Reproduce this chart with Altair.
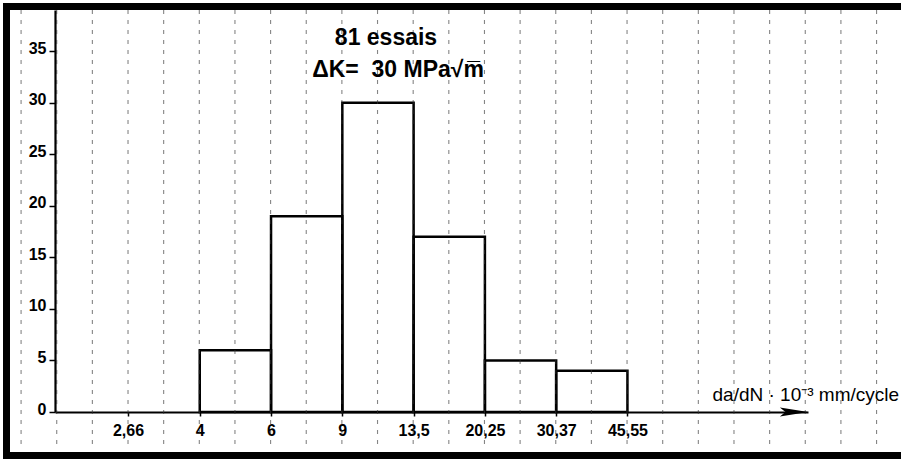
import altair as alt
import pandas as pd

# ---- data ----
bin_lo = [4, 6, 9, 13.5, 20.25, 30.37]
bin_hi = [6, 9, 13.5, 20.25, 30.37, 45.55]
counts = [6, 19, 30, 17, 5, 4]
x_ticks = [2.66, 4, 6, 9, 13.5, 20.25, 30.37, 45.55]
y_ticks = [0, 5, 10, 15, 20, 25, 30, 35]
x_domain = [1.756, 127.2]
y_domain = [0, 39]
# paper grid lines: half steps of the 1.5 ratio class scale
grid_vals = [2.66 * 1.5 ** (k / 2) for k in range(-3, 22)]
title_lines = ["81 essais", "ΔK=\u00a0\u00a030\u00a0MPa√m̅"]
x_title = "da/dN · 10⁻³ mm/cycle"

W, H = 753, 402
FONT = "Liberation Sans"
NARROW = "Liberation Sans Narrow, Arial Narrow, Liberation Sans"

xs = alt.Scale(type="log", domain=x_domain, nice=False, zero=False)
ys = alt.Scale(domain=y_domain, nice=False, zero=False)

x_axis = alt.Axis(
    values=x_ticks,
    labelExpr="replace(toString(datum.value), '.', ',')",
    title=x_title,
    titleX=657,
    titleY=-12,
    titleAlign="left",
    titleBaseline="alphabetic",
    titleFontSize=19,
    titleFontWeight="normal",
    titleFont=FONT,
    titleColor="black",
    labelFontSize=16,
    labelFont=NARROW,
    labelFontWeight="bold",
    labelColor="black",
    labelPadding=6,
    labelFlush=False,
    labelOverlap=False,
    tickSize=4,
    tickWidth=1.5,
    tickColor="black",
    domainColor="black",
    domainWidth=2.2,
    grid=False,
)
y_axis = alt.Axis(
    values=y_ticks,
    title=None,
    labelFontSize=16,
    labelFont=NARROW,
    labelFontWeight="bold",
    labelColor="black",
    labelPadding=3,
    labelBaseline="middle",
    labelOffset=-3,
    tickSize=6,
    tickWidth=1.5,
    tickColor="black",
    domainColor="black",
    domainWidth=2.2,
    grid=False,
)

bars_df = pd.DataFrame({"lo": bin_lo, "hi": bin_hi, "n": counts, "base": [0] * len(counts)})
grid_df = pd.DataFrame({"lo": grid_vals})
arrow_df = pd.DataFrame({"lo": [x_domain[1]], "n": [0]})
one = pd.DataFrame({"a": [0]})

bars = alt.Chart(bars_df).mark_rect(
    fill="white", fillOpacity=0, stroke="black", strokeWidth=2.5
).encode(
    x=alt.X("lo:Q", scale=xs, axis=x_axis),
    x2="hi:Q",
    y=alt.Y("n:Q", scale=ys, axis=y_axis),
    y2="base:Q",
)

grid = alt.Chart(grid_df).mark_rule(
    stroke="#333", strokeDash=[4, 6], strokeWidth=1.1, opacity=0.6
).encode(
    x=alt.X("lo:Q", scale=xs, axis=x_axis),
    y=alt.value(0),
    y2=alt.value(437),
)

arrow = alt.Chart(arrow_df).mark_point(
    shape="M-1,-0.32L1,0L-1,0.32L-0.6,0Z",
    filled=True,
    color="black",
    size=800,
    opacity=1,
    xOffset=-14,
).encode(
    x=alt.X("lo:Q", scale=xs, axis=x_axis),
    y=alt.Y("n:Q", scale=ys, axis=y_axis),
)

t1 = alt.Chart(one).mark_text(
    text=title_lines[0], font=FONT, fontSize=23, fontWeight="bold", color="black",
    align="center", baseline="alphabetic"
).encode(x=alt.value(331), y=alt.value(35))
t2 = alt.Chart(one).mark_text(
    text=title_lines[1], font=FONT, fontSize=23, fontWeight="bold", color="black",
    align="center", baseline="alphabetic"
).encode(x=alt.value(343), y=alt.value(67))

border_style = dict(color="black", strokeWidth=7)
b_left = alt.Chart(one).mark_rule(**border_style).encode(
    x=alt.value(-48.5), y=alt.value(-7), y2=alt.value(449))
b_top = alt.Chart(one).mark_rule(**border_style).encode(
    y=alt.value(-3.5), x=alt.value(-52), x2=alt.value(846))
b_bot = alt.Chart(one).mark_rule(**border_style).encode(
    y=alt.value(445.5), x=alt.value(-52), x2=alt.value(846))

chart = alt.layer(bars, grid, arrow, t1, t2, b_left, b_top, b_bot).properties(
    width=W,
    height=H,
    padding={"left": 55, "top": 10, "right": 93, "bottom": 47},
    autosize=alt.AutoSizeParams(type="none"),
    background="white",
).configure_view(stroke=None)

chart.save("out.html", embed_options={"renderer": "svg", "actions": False})
